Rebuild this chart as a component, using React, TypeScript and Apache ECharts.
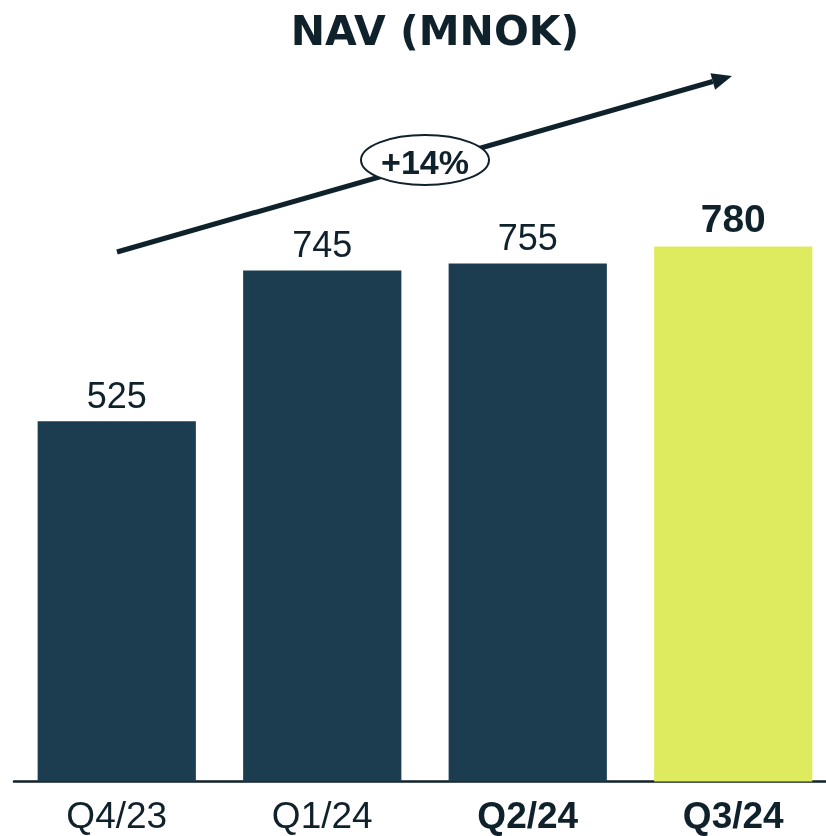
import React, { useEffect, useRef } from "react";
import * as echarts from "echarts";

const categories = ["Q4/23", "Q1/24", "Q2/24", "Q3/24"];
const navValues = [525, 745, 755, 780];
const boldCategories = [false, false, true, true];
const highlightIndex = 3;
const growthLabel = "+14%";
const chartTitle = "NAV (MNOK)";

const DARK = "#1c3d4f";
const LIME = "#dfeb5e";
const INK = "#0f212b";

export default function App() {
  const ref = useRef<HTMLDivElement>(null);
  useEffect(() => {
    if (!ref.current) return;
    const chart = echarts.init(ref.current, null, { renderer: "svg" });
    // arrow geometry
    const x0 = 117, y0 = 252, tx = 732, ty = 76;
    const dx = tx - x0, dy = ty - y0;
    const len = Math.sqrt(dx * dx + dy * dy);
    const ux = dx / len, uy = dy / len;
    const nx = -uy, ny = ux;
    const hl = 20, hw = 8.5;
    const bx = tx - hl * ux, by = ty - hl * uy;

    chart.setOption({
      animation: false,
      title: {
        text: chartTitle,
        left: 430,
        top: 5,
        textAlign: "center",
        textStyle: {
          fontFamily: "DejaVu Sans",
          fontWeight: "bold",
          fontSize: 41,
          color: INK,
        },
      },
      grid: {
        left: 14,
        width: 822,
        top: 95.5,
        bottom: 54.5,
        outerBoundsMode: "none",
        containLabel: false,
      },
      xAxis: {
        type: "category",
        data: categories.map((c, i) => ({
          value: c,
          textStyle: { fontWeight: boldCategories[i] ? "bold" : "normal" },
        })),
        axisLine: { show: true, lineStyle: { color: INK, width: 2.5 } },
        axisTick: { show: false },
        axisLabel: {
          fontFamily: "Liberation Sans",
          fontSize: 37,
          color: INK,
          margin: 15,
        },
      },
      yAxis: {
        type: "value",
        min: 0,
        max: 1000,
        show: false,
        splitLine: { show: false },
      },
      series: [
        {
          type: "bar",
          barCategoryGap: "23%",
          data: navValues.map((v, i) => ({
            value: v,
            itemStyle: { color: i === highlightIndex ? LIME : DARK },
            label:
              i === highlightIndex
                ? { fontWeight: "bold", fontSize: 39 }
                : undefined,
          })),
          label: {
            show: true,
            position: "top",
            distance: 8,
            fontFamily: "Liberation Sans",
            fontSize: 36,
            color: INK,
          },
        },
      ],
      graphic: [
        {
          type: "line",
          shape: { x1: x0, y1: y0, x2: bx, y2: by },
          style: { stroke: INK, lineWidth: 5 },
          z: 10,
        },
        {
          type: "polygon",
          shape: {
            points: [
              [tx, ty],
              [bx + hw * nx, by + hw * ny],
              [bx - hw * nx, by - hw * ny],
            ],
          },
          style: { fill: INK },
          z: 10,
        },
        {
          type: "ellipse",
          shape: { cx: 425, cy: 160, rx: 64, ry: 25 },
          style: { fill: "#ffffff", stroke: INK, lineWidth: 2 },
          z: 11,
        },
        {
          type: "text",
          x: 425,
          y: 162,
          style: {
            text: growthLabel,
            align: "center",
            verticalAlign: "middle",
            fontFamily: "Liberation Sans",
            fontWeight: "bold",
            fontSize: 34,
            fill: INK,
          },
          z: 12,
        },
      ],
    });
    return () => chart.dispose();
  }, []);
  return (
    <div
      ref={ref}
      style={{ position: "fixed", left: 0, top: 0, width: 826, height: 836 }}
    />
  );
}
